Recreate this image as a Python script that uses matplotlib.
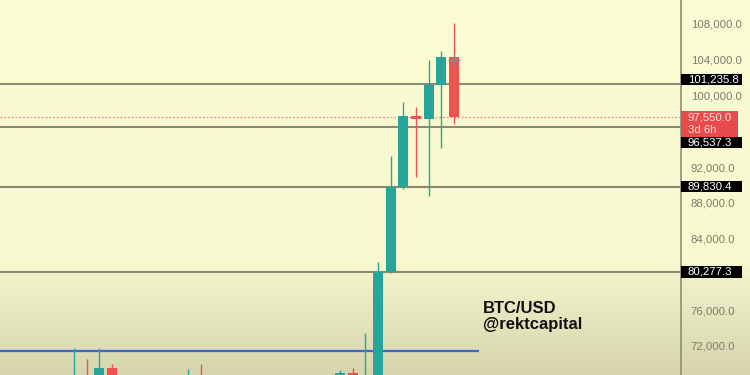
import matplotlib.pyplot as plt
import matplotlib.transforms as mtransforms
from matplotlib.colors import LinearSegmentedColormap
import numpy as np

# weekly candles (week offset, open, high, low, close)
weeks  = [-21, -20, -19, -18, -12, -11, 0, 1, 2, 3, 4, 5, 6, 7, 8, 9]
opens  = [66500, 68000, 66800, 69572, 66000, 67800, 67000, 68947, 67500,
          68600, 80277.3, 89830.4, 97714, 97380, 101180, 104310]
highs  = [71810, 70545, 71810, 69985, 69427, 70020, 69315, 69500, 73418,
          81390, 93242, 99279, 98720, 104000, 104980, 108110]
lows   = [65000, 65500, 66000, 66500, 65000, 65500, 66000, 66500, 66000,
          66800, 80200, 89550, 90894, 88770, 94136, 96820]
closes = [68000, 66500, 69572, 67000, 67500, 66000, 68947, 67800, 68600,
          80277.3, 89830.4, 97714, 97400, 101180, 104310, 97550]

levels = [101235.8, 96537.3, 89830.4, 80277.3]
blue_level = 71440
last_price = 97550.0
countdown = "3d 6h"
tick_vals = [72000, 76000, 84000, 88000, 92000, 100000, 104000, 108000]

GREEN = "#26a69a"
RED = "#ef5350"

plt.rcParams['font.family'] = ['Liberation Sans', 'DejaVu Sans']

fig = plt.figure(figsize=(7.5, 3.75), dpi=100)

# background gradient
bg = fig.add_axes([0, 0, 1, 1])
bg.set_axis_off()
cmap = LinearSegmentedColormap.from_list(
    "bg", [(0, "#fcfcd4"), (0.70, "#f9f9d0"), (0.74, "#f1f1c9"), (1, "#d6d5ad")])
grad = np.linspace(0, 1, 300).reshape(-1, 1)
bg.imshow(grad, aspect="auto", cmap=cmap, extent=[0, 1, 0, 1], origin="upper")

ax = fig.add_axes([0, 0, 681 / 750, 1])
ax.set_facecolor("none")
ax.set_xlim(-26.84, 26.91)
ax.set_ylim(68756, 110683)

for s in ["top", "left", "bottom"]:
    ax.spines[s].set_visible(False)
ax.spines["right"].set_color("#8e8e7c")
ax.spines["right"].set_linewidth(1.2)

ax.set_xticks([])
ax.yaxis.tick_right()
ax.set_yticks(tick_vals)
ax.set_yticklabels([f"{v:,.1f}" for v in tick_vals])
ax.tick_params(axis="y", length=0, pad=7, labelsize=8.2, labelcolor="#7c7c6c")

# level lines
for lv in levels:
    ax.axhline(lv, color="#8a8a72", lw=1.5, zorder=1)
ax.hlines(blue_level, -26.84, 11, color="#3f63d8", lw=1.6, zorder=1)
ax.axhline(last_price, color="#e98b84", lw=0.9, ls=(0, (1.5, 1.5)), zorder=1)

# candles
for w, o, h, l, c in zip(weeks, opens, highs, lows, closes):
    col = GREEN if c >= o else RED
    ax.vlines(w, l, h, color=col, lw=1.0, zorder=2)
    ax.bar(w, abs(c - o), bottom=min(o, c), width=0.78, color=col,
           edgecolor="none", zorder=3)

# cursor cross
ax.plot(9, 104000, marker="+", ms=8, color="#8a8a8a", mew=1.0, zorder=4)

ax.text(483 / 681, 1 - 301 / 375, "BTC/USD\n@rektcapital", transform=ax.transAxes,
        fontsize=12, fontweight="bold", color="#111111", va="top", ha="left",
        linespacing=1.05)

# price axis labels
trans = mtransforms.blended_transform_factory(ax.transAxes, ax.transData)
box_w = 61 / 681
box_h = 1300
# 96,537.3 tag is pushed down under the last-price tag
label_pos = {101235.8: 101800, 96537.3: 94750, 89830.4: 89830.4, 80277.3: 80277.3}
for lv in levels:
    yp = label_pos[lv]
    ax.add_patch(plt.Rectangle((1.0, yp - box_h / 2), box_w, box_h, transform=trans,
                               facecolor="black", edgecolor="none", clip_on=False, zorder=5))
    ax.text(1.0 + 7 / 681, yp, f"{lv:,.1f}", transform=trans, color="white",
            fontsize=8.2, va="center", ha="left", clip_on=False, zorder=6)

ax.add_patch(plt.Rectangle((1.0, last_price - 2180), 57 / 681, 2900, transform=trans,
                           facecolor="#e84b4b", edgecolor="none", clip_on=False, zorder=7))
ax.text(1.0 + 7 / 681, last_price, f"{last_price:,.1f}", transform=trans,
        color="#ffdede", fontsize=8.2, va="center", ha="left", clip_on=False, zorder=8)
ax.text(1.0 + 7 / 681, last_price - 1450, countdown, transform=trans,
        color="#ffdede", fontsize=8.2, va="center", ha="left", clip_on=False, zorder=8)

fig.savefig("out.png", dpi=100)
